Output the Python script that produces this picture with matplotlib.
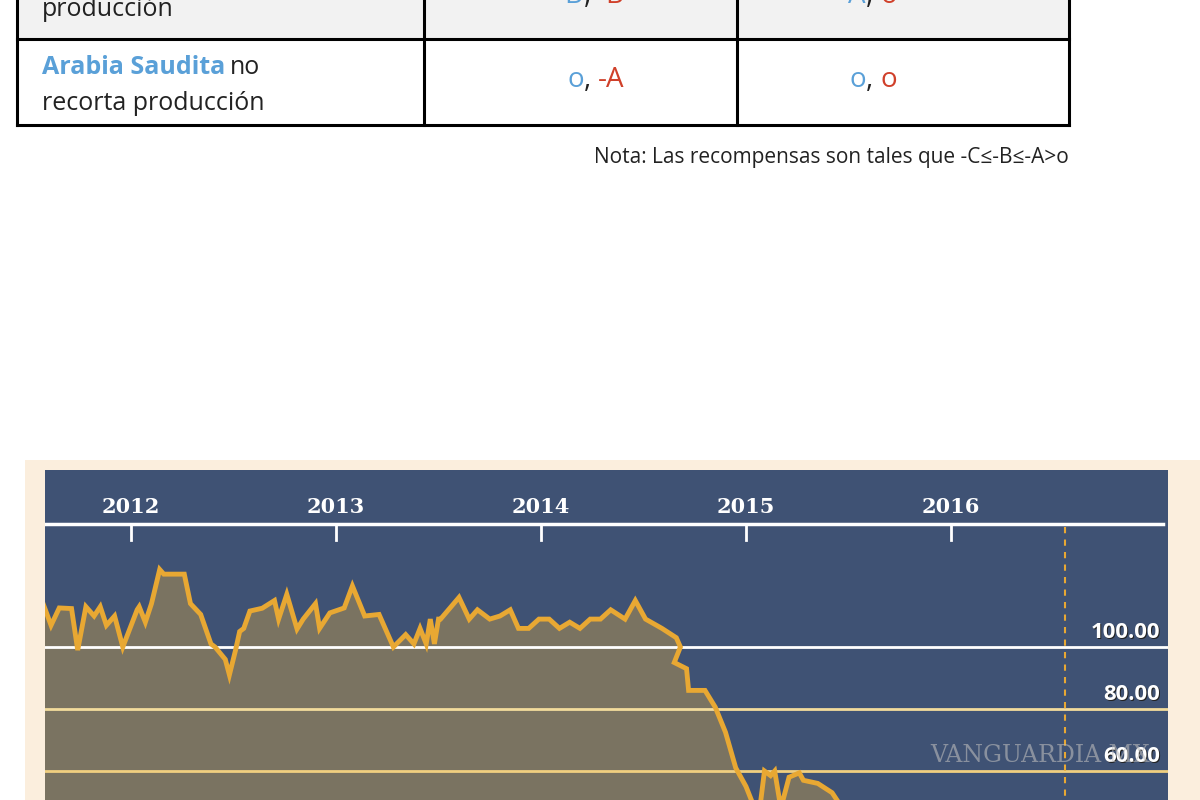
import matplotlib
matplotlib.use("Agg")
import matplotlib.pyplot as plt
import numpy as np

# price series, x in fractional years
years = [2011.56,2011.61,2011.65,2011.71,2011.74,2011.78,2011.82,2011.85,2011.88,2011.92,2011.96,2011.96,2012.03,2012.04,2012.07,2012.1,2012.14,2012.16,2012.26,2012.29,2012.34,2012.39,2012.41,2012.46,2012.48,2012.51,2012.53,2012.55,2012.58,2012.64,2012.7,2012.72,2012.76,2012.81,2012.84,2012.9,2012.92,2012.97,2013.04,2013.08,2013.14,2013.21,2013.28,2013.34,2013.38,2013.41,2013.44,2013.46,2013.48,2013.5,2013.51,2013.6,2013.65,2013.69,2013.75,2013.8,2013.85,2013.89,2013.94,2013.99,2014.04,2014.09,2014.14,2014.19,2014.24,2014.29,2014.34,2014.41,2014.46,2014.51,2014.59,2014.66,2014.68,2014.65,2014.71,2014.72,2014.8,2014.85,2014.9,2014.95,2015.0,2015.03,2015.06,2015.09,2015.12,2015.14,2015.17,2015.21,2015.26,2015.28,2015.35,2015.42,2015.48,2015.54,2015.6,2015.7,2015.78,2015.83,2015.95,2016.1,2016.3,2016.4,2016.45,2016.49,2016.53]
prices = [116,107,112.6,112.4,99,113,110,113,107,110,100,100,112,113,108,114,125,123.5,123.5,114,110.5,101,100,96,91,99,105,106,111.6,112.5,115,109,117,105.8,109,114,106,111,112.6,119.7,110,110.5,100,104,101,106,101,109,101,109,109,116,109,112,109,110,112,106,106,109,109,106,108,106,109,109,112,109,115,109,106,103,100,95,93,86,86,80.6,72.5,61,55,50,44,60,58.5,60,48,58,59.4,57,56,53,47,44,45,44,46,44,45,44,45,45,48,46,49]

tick_years = [2012, 2013, 2014, 2015, 2016]
grid_vals = [100, 80, 60]
grid_labels = ["100.00", "80.00", "60.00"]

W, H = 1200, 800
fig = plt.figure(figsize=(12, 8), dpi=100)
fig.patch.set_facecolor("white")
plt.rcParams['font.family'] = ['Open Sans', 'DejaVu Sans']

# ---- overlay axes in pixel coords for table ----
ov = fig.add_axes([0, 0, 1, 1])
ov.set_xlim(0, W); ov.set_ylim(H, 0); ov.axis("off")
ov.add_patch(plt.Rectangle((17, -5), 1052, 44, facecolor="#f2f2f2", edgecolor="none"))
lk = dict(color="black", lw=2.2)
ov.plot([17, 1069], [39, 39], **lk)
ov.plot([17, 1069], [125, 125], **lk)
for x in [17, 424, 737, 1069]:
    ov.plot([x, x], [-5, 125], **lk)
blue, red = "#5aa0d8", "#d0402a"
fs = 18
ov.text(42, 10, "producción", fontsize=fs, va="center", color="#222222")
ov.text(42, 68, "Arabia Saudita", fontsize=fs, va="center", color=blue, fontweight="bold")
ov.text(230, 68, "no", fontsize=fs, va="center", color="#222222")
ov.text(42, 103, "recorta producción", fontsize=fs, va="center", color="#222222")

def pair(xc, y, a, b):
    ov.text(xc - 4, y, a, fontsize=20, color=blue, ha="right", va="center")
    ov.text(xc - 4, y, ",", fontsize=20, color="#222222", ha="left", va="center")
    ov.text(xc + 10, y, b, fontsize=20, color=red, ha="left", va="center")
pair(588, 80, "o", "-A")
pair(870, 80, "o", "o")
pair(588, -4, "-B", "-B")
pair(870, -4, "-A", "o")
ov.text(1069, 157, "Nota: Las recompensas son tales que -C≤-B≤-A>o", fontsize=15,
        ha="right", va="center", color="#222222")

# beige frame
ov.add_patch(plt.Rectangle((25, 460), 1175, 345, facecolor="#fbeedd", edgecolor="none"))

# ---- chart axes ----
def px2x(px):
    return 2012 + (px - 131) / 205.0
def py2v(py):
    return 100 - (py - 647) / 3.1

ax = fig.add_axes([45 / W, 0, (1168 - 45) / W, (800 - 470) / H])
ax.set_xlim(px2x(45), px2x(1168))
ax.set_ylim(py2v(800), py2v(470))
ax.set_facecolor("#3f5274")
for s in ax.spines.values():
    s.set_visible(False)
ax.set_xticks([]); ax.set_yticks([])

ax.fill_between(years, prices, py2v(900), color="#7a7361", zorder=2)
gcols = ["white", "#f3dc9c", "#f0cf80"]
for v, c in zip(grid_vals, gcols):
    ax.axhline(v, color=c, lw=2, zorder=3)
ax.plot(years, prices, color="#e8a833", lw=3.5, zorder=4, solid_joinstyle="miter")

hdr = py2v(524)
ax.plot([px2x(45), px2x(1163)], [hdr, hdr], color="white", lw=2.5, zorder=5)
for yr in tick_years:
    ax.plot([yr, yr], [hdr, py2v(540)], color="white", lw=2, zorder=5)
    ax.text(yr, py2v(507), str(yr), color="white", fontsize=15, fontweight="bold",
            ha="center", va="center", family="DejaVu Serif")
xd = px2x(1065)
ax.plot([xd, xd], [py2v(527), py2v(800)], color="#e8a833", lw=1.5, ls=(0, (3, 3)), zorder=5)
for v, lab in zip(grid_vals, grid_labels):
    yl = v + 4.7
    ax.text(px2x(1160) + 0.005, yl - 0.5, lab, color="#222222", fontsize=16, fontweight="bold",
            ha="right", va="center", zorder=6)
    ax.text(px2x(1160), yl, lab, color="white", fontsize=16, fontweight="bold",
            ha="right", va="center", zorder=7)
ax.text(px2x(1040), py2v(755), "VANGUARDIA MX", color="#bbbbbb", fontsize=17,
        family="DejaVu Serif", ha="center", va="center", alpha=0.6, zorder=8)

fig.savefig("out.png", dpi=100)
